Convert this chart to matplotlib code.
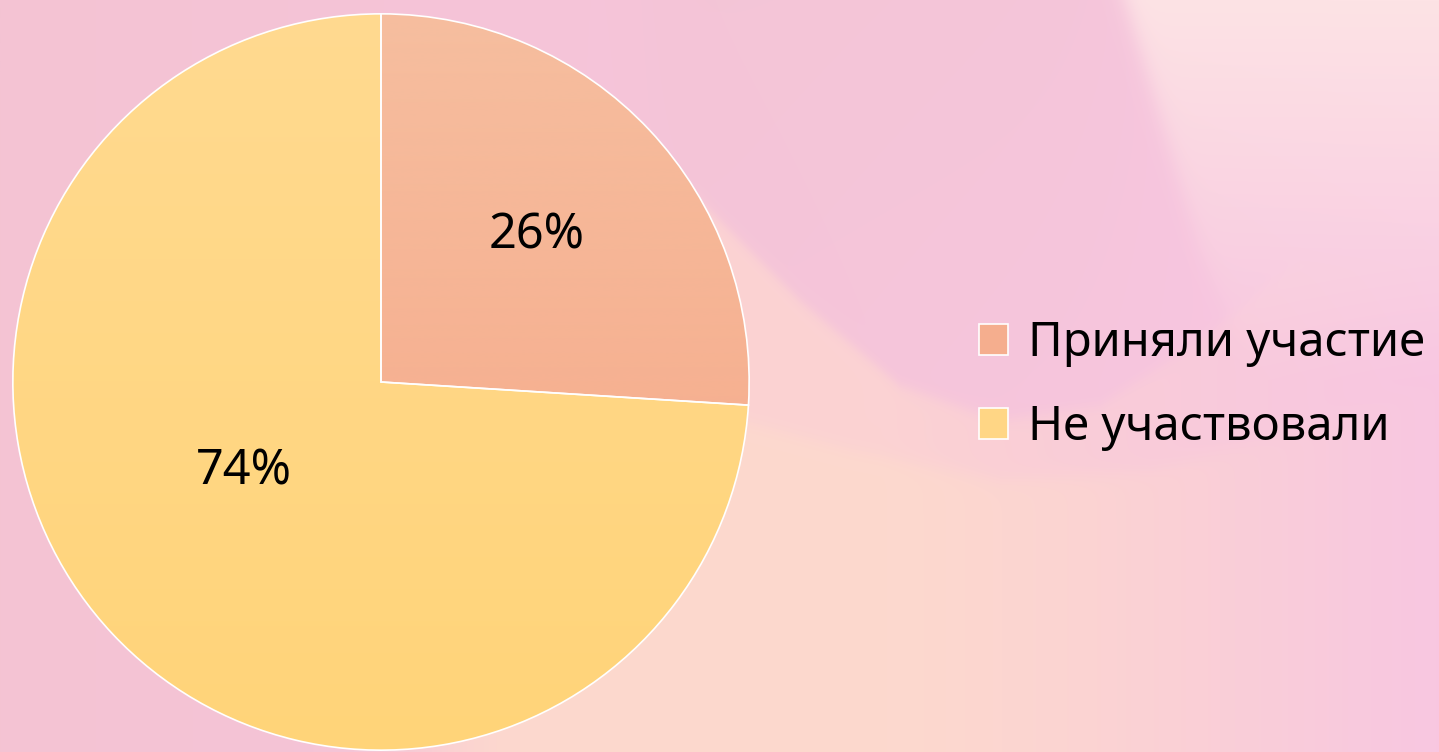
import numpy as np
import matplotlib.pyplot as plt
from matplotlib.colors import to_rgb
from matplotlib.patches import Patch

labels = ['Приняли участие', 'Не участвовали']
shares = [26, 74]
# top / bottom colours of each slice gradient
grad_top = ['#F6BE9F', '#FFDA90']
grad_bottom = ['#F6A585', '#FFD479']

plt.rcParams['font.family'] = ['Noto Sans', 'DejaVu Sans']

W, H = 1439, 752
fig = plt.figure(figsize=(W / 100, H / 100), dpi=100)


def rgb(h):
    return np.array(to_rgb(h))[None, None, :]


def blend(img, col, m):
    return img * (1 - m[..., None]) + rgb(col) * m[..., None]


def sig(v, s):
    return 1 / (1 + np.exp(-np.clip(v / s, -50, 50)))


# background: pink with a peach wave and a light blob top right
bg = fig.add_axes([0, 0, 1, 1], zorder=0)
yy, xx = np.mgrid[0:H, 0:W].astype(float)
t = (xx / W)[..., None]
img = rgb('#F4C3D3') * (1 - t) + rgb('#F8C6E2') * t

# peach wave below the mauve blob
wave1 = np.interp(xx, [550, 650, 700, 800, 900, 1000, 1100, 1200, 1300],
                  [150, 180, 200, 300, 385, 420, 405, 340, 260])
wave2 = np.interp(xx, [700, 850, 1000, 1150, 1300, 1439],
                  [410, 450, 480, 470, 430, 380])
fade = np.clip((1480 - xx) / 600, 0, 1) ** 1.3 * sig(xx - 450, 30)
img = blend(img, '#FCD4D2', sig(yy - wave1, 4) * fade * 0.9)
img = blend(img, '#FDDACD', sig(yy - wave2, 5) * fade * 0.85)
# slightly darker mauve blob
mb = (1 - sig(yy - wave1, 4)) * sig(xx - 650, 20) * (1 - sig(xx - 1150, 40))
img = blend(img, '#F0C6D0', mb * 0.35 * np.clip(1 - yy / 600, 0.3, 1))
# light top right blob
curve = np.interp(yy, [0, 100, 250, 400, 752], [1125, 1155, 1200, 1260, 1400])
dl = sig(xx - curve, 6) * np.clip(1 - yy / 380, 0, 1)
img = blend(img, '#FDE3E5', dl)

bg.imshow(img, aspect='auto', extent=[0, W, H, 0])
bg.set_axis_off()

# pie
ax = fig.add_axes([11 / W, 0, 740 / W, 740 / H], zorder=1)
ax.patch.set_alpha(0)
wedges, texts, autotexts = ax.pie(
    shares, labels=None, colors=grad_bottom, startangle=90, counterclock=False,
    autopct='%1.0f%%', pctdistance=0.58,
    wedgeprops=dict(edgecolor='white', linewidth=1.2),
    textprops=dict(fontsize=35, color='black'))

for w, c0, c1 in zip(wedges, grad_top, grad_bottom):
    a = np.array(to_rgb(c0))
    b = np.array(to_rgb(c1))
    s = np.linspace(0, 1, 256)[:, None, None]
    g = a * (1 - s) + b * s
    im = ax.imshow(g, extent=[-1, 1, -1, 1], origin='upper', aspect='auto', zorder=1.5)
    im.set_clip_path(w)
    w.set_facecolor('none')
    w.set_zorder(2)

# PowerPoint places the 74% label a bit higher
autotexts[1].set_position((-0.373, -0.243))
for t_ in autotexts:
    t_.set_zorder(3)

ax.set_xlim(-1.005, 1.005)
ax.set_ylim(-1.005, 1.005)
ax.set_aspect('equal')
ax.set_axis_off()

handles = [Patch(facecolor=c, edgecolor='white', linewidth=1.2) for c in ['#F5AE8E', '#FFD685']]
fig.legend(handles, labels, loc='center left', bbox_to_anchor=(979 / W, 0.487),
           frameon=False, fontsize=34, handlelength=0.62, handleheight=0.62,
           handletextpad=0.42, labelspacing=0.78, borderaxespad=0, borderpad=0)

fig.savefig('out.png', dpi=100)
